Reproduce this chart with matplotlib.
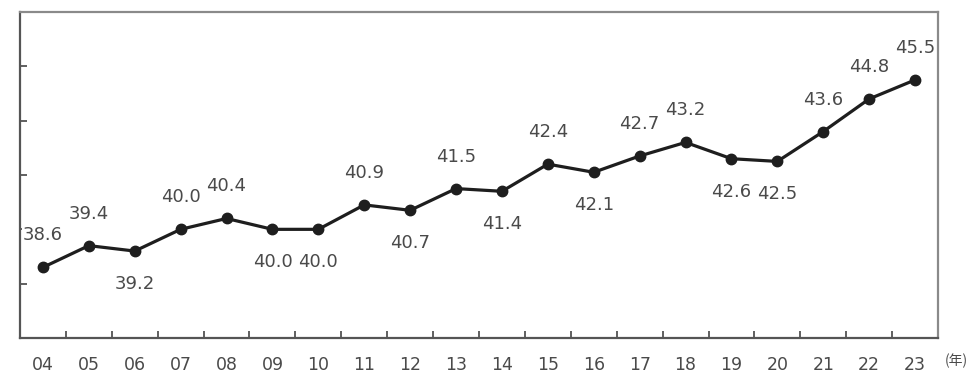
import matplotlib
matplotlib.use("Agg")
import matplotlib.pyplot as plt
import numpy as np

years = ["04", "05", "06", "07", "08", "09", "10", "11", "12", "13",
         "14", "15", "16", "17", "18", "19", "20", "21", "22", "23"]
values = [38.6, 39.4, 39.2, 40.0, 40.4, 40.0, 40.0, 40.9, 40.7, 41.5,
          41.4, 42.4, 42.1, 42.7, 43.2, 42.6, 42.5, 43.6, 44.8, 45.5]
# label placement: 1 = above the point, -1 = below
label_side = [1, 1, -1, 1, 1, -1, -1, 1, -1, 1,
              -1, 1, -1, 1, 1, -1, -1, 1, 1, 1]
y_ticks = [38, 40, 42, 44, 46]

W, H, DPI = 970, 376, 100
fig = plt.figure(figsize=(W / DPI, H / DPI), dpi=DPI)
ax = fig.add_axes([20 / W, 1 - 338 / H, 918 / W, 326 / H])

x = np.arange(len(years))
line_col = "#1e1e1e"
text_col = "#4a4a4a"
ax.plot(x, values, color=line_col, lw=2.3, marker="o", ms=7.5,
        markerfacecolor=line_col, markeredgecolor=line_col, zorder=3)

for xi, v, side in zip(x, values, label_side):
    dy = 32 if side > 0 else -33
    ax.annotate(f"{v:.1f}", (xi, v), xytext=(0, dy * 72 / DPI),
                textcoords="offset points", ha="center", va="center",
                fontsize=13, color=text_col, family="DejaVu Sans",
                bbox=dict(boxstyle="square,pad=0.05", fc="white", ec="none"),
                zorder=4, annotation_clip=False)

ax.set_xlim(-0.5, len(years) - 0.5)
ax.set_ylim(36, 48)

# categories at centres, small inward ticks at the boundaries
ax.set_xticks(x)
ax.set_xticklabels(years, fontsize=12.5, color=text_col)
ax.tick_params(axis="x", which="major", length=0, pad=13)
ax.set_xticks(np.arange(0.5, len(years) - 1, 1.0), minor=True)
ax.tick_params(axis="x", which="minor", direction="in", length=5,
               width=1.2, color="#444444")

ax.set_yticks(y_ticks)
ax.set_yticklabels([])
ax.tick_params(axis="y", direction="in", length=5, width=1.2,
               color="#444444", left=True, right=False)

for name, sp in ax.spines.items():
    sp.set_linewidth(1.6)
    sp.set_zorder(5)
    sp.set_color("#555555" if name in ("left", "bottom") else "#8a8a8a")

fig.text(956 / W, 1 - 361 / H, "(年)", ha="center", va="center",
         fontsize=10, color=text_col,
         family=["Noto Sans CJK JP", "DejaVu Sans"])

fig.savefig("out.png", dpi=DPI, facecolor="white")
